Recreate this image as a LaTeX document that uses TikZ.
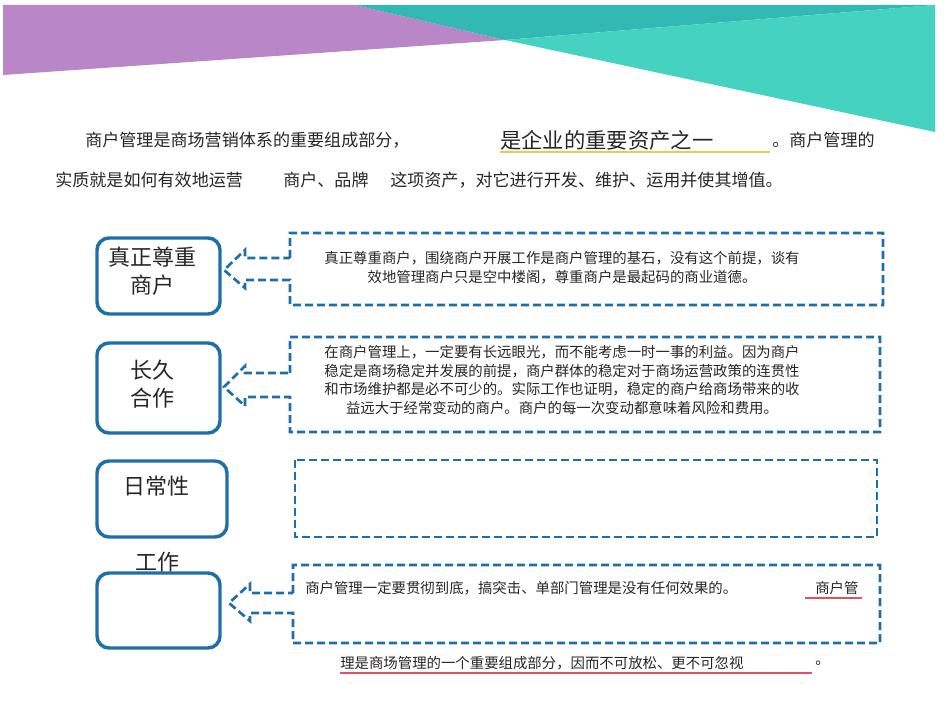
\documentclass[tikz,border=0pt]{standalone}
\usepackage{fontspec}
\setmainfont{Noto Sans CJK SC}
\definecolor{bl}{RGB}{30,110,170}
\definecolor{ul}{RGB}{225,80,100}
\begin{document}
\begin{tikzpicture}[x=0.75pt,y=-0.75pt,
  title/.style={font=\fontsize{16.5}{21}\selectfont, text=black!85, align=center},
  body/.style={font=\fontsize{12.8}{15}\selectfont, text=black!85, anchor=west, inner sep=0},
  small/.style={font=\fontsize{10.8}{14.2}\selectfont, text=black!85, align=center},
  rbox/.style={draw=bl, line width=2.6pt, rounded corners=9pt},
  callout/.style={draw=bl, line width=2pt, dash pattern=on 6pt off 3pt, line join=miter}]
\useasboundingbox (0,0) rectangle (950,713);
% banner
\fill[fill={rgb,255:red,185;green,135;blue,200}] (3,5) -- (355,5) -- (505,40) -- (3,75) -- cycle;
\fill[fill={rgb,255:red,50;green,185;blue,180}] (355,5) -- (935,5) -- (505,40) -- cycle;
\fill[fill={rgb,255:red,70;green,210;blue,192}] (505,40) -- (935,5) -- (935,132) -- cycle;
% intro
\node[body] (t1) at (85,140) {商户管理是商场营销体系的重要组成部分，};
\node[body, font=\fontsize{16}{19}\selectfont] (t2) at (500,140) {是企业的重要资产之一};
\draw[draw={rgb,255:red,240;green,200;blue,80}, line width=0.8pt] (500,152) -- (770,152);
\node[body] (t3) at (772,140) {。商户管理的};
\node[body] (t4) at (55,180) {实质就是如何有效地运营};
\node[body] (t5) at (283,180) {商户、品牌};
\node[body] (t6) at (390,180) {这项资产，对它进行开发、维护、运用并使其增值。};
% left boxes
\draw[rbox] (97,238) rectangle (220,314);
\node[title] (b1) at (152,271) {真正尊重\\商户};
\draw[rbox] (97,343) rectangle (220,433);
\node[title] (b2) at (152,384) {长久\\合作};
\draw[rbox] (97,461) rectangle (227,537);
\node[title] (b3) at (156,486) {日常性};
\node[title] (b4t) at (157,562) {工作};
\draw[rbox] (97,573) rectangle (220,648);
% callouts
\draw[callout] (290,258) -- (290,233) -- (883,233) -- (883,305) -- (290,305) -- (290,280) -- (245,280) -- (245,288) -- (224,270) -- (245,250) -- (245,258) -- cycle;
\node[small] (c1) at (562,268) {真正尊重商户，围绕商户开展工作是商户管理的基石，没有这个前提，谈有\\效地管理商户只是空中楼阁，尊重商户是最起码的商业道德。};
\draw[callout] (290,373) -- (290,337) -- (880,337) -- (880,432) -- (290,432) -- (290,397) -- (245,397) -- (245,406) -- (224,387) -- (245,366) -- (245,373) -- cycle;
\node[small] (c2) at (562,380) {在商户管理上，一定要有长远眼光，而不能考虑一时一事的利益。因为商户\\稳定是商场稳定并发展的前提，商户群体的稳定对于商场运营政策的连贯性\\和市场维护都是必不可少的。实际工作也证明，稳定的商户给商场带来的收\\益远大于经常变动的商户。商户的每一次变动都意味着风险和费用。};
\draw[callout] (295,460) rectangle (877,537);
\draw[callout] (293,593) -- (293,565) -- (880,565) -- (880,643) -- (293,643) -- (293,613) -- (250,613) -- (250,621) -- (229,603) -- (250,584) -- (250,593) -- cycle;
\node[small, anchor=west, inner sep=0] (c4a) at (305,588) {商户管理一定要贯彻到底，搞突击、单部门管理是没有任何效果的。};
\node[small, anchor=west, inner sep=0] (c4b) at (815,588) {商户管};
\draw[ul, line width=0.8pt] (805,598) -- (862,598);
\node[small, anchor=west, inner sep=0] (c4c) at (340,663) {理是商场管理的一个重要组成部分，因而不可放松、更不可忽视};
\draw[ul, line width=0.8pt] (340,673) -- (812,673);
\node[small, anchor=west, inner sep=0] (c4d) at (815,663) {。};
\end{tikzpicture}
\end{document}
